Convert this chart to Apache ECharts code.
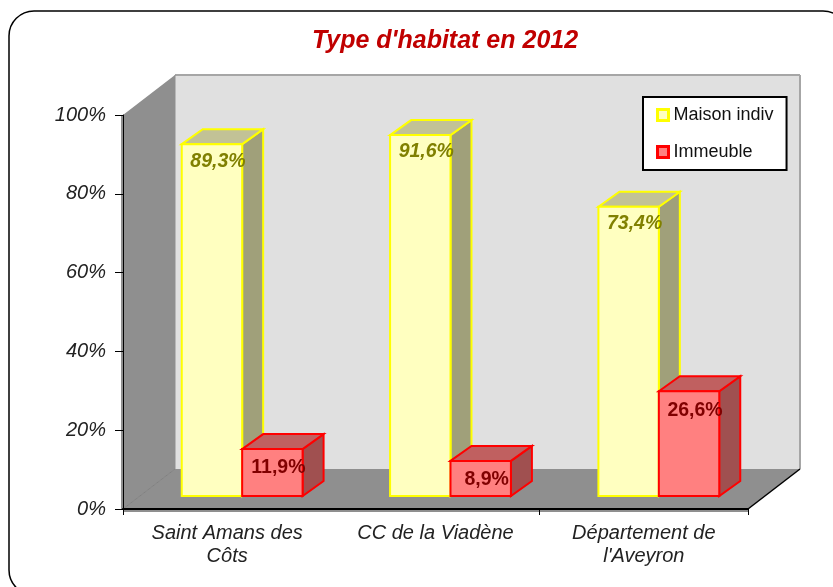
<!DOCTYPE html>
<html>
<head>
<meta charset="utf-8">
<style>html,body{margin:0;padding:0;background:#fff}#chart{width:833px;height:587px}</style>
<script src="https://cdn.jsdelivr.net/npm/echarts@6/dist/echarts.min.js"></script>
</head>
<body>
<div id="chart"></div>
<script>
// data
const categories = ['Saint Amans des\nCôts', 'CC de la Viadène', 'Département de\nl\'Aveyron'];
const maison = [89.3, 91.6, 73.4];
const immeuble = [11.9, 8.9, 26.6];
const yTicks = { min: 0, max: 100, interval: 20 };

// 3D look
const wallDx = 52, wallDy = 40;     // depth of the room
const floorDx = 15, floorDy = 13;   // how far the bars stand from the front edge
const boxDx = 21, boxDy = 15;       // depth of one bar
const barShare = 0.29;              // bar width / band width
const font = '"Liberation Sans", Arial, sans-serif';

const yellow = { front: '#ffffc0', top: '#c2c296', side: '#a0a07a', line: '#ffff00', text: '#808000', style: 'italic', labelDy: 17 };
const red = { front: '#ff8080', top: '#c06060', side: '#a05050', line: '#ff0000', text: '#800000', style: 'normal', labelDy: 19 };

const chart = echarts.init(document.getElementById('chart'));

function poly(points, fill, stroke, lineWidth) {
    return {
        type: 'polygon',
        shape: { points: points },
        style: { fill: fill, stroke: stroke || null, lineWidth: lineWidth || 0 }
    };
}

function line(x1, y1, x2, y2, color, width) {
    return {
        type: 'line',
        shape: { x1: x1, y1: y1, x2: x2, y2: y2 },
        style: { stroke: color, lineWidth: width }
    };
}

// walls and floor
function renderRoom(params) {
    const g = params.coordSys;
    const l = g.x, r = g.x + g.width, t = g.y, b = g.y + g.height;
    const dx = wallDx, dy = wallDy;
    return {
        type: 'group',
        children: [
            poly([[l + dx, t - dy], [r + dx, t - dy], [r + dx, b - dy], [l + dx, b - dy]], '#e0e0e0'),
            poly([[l - 2, t], [l, t], [l + dx, t - dy], [l + dx, b - dy], [l, b], [l - 2, b]], '#8f8f8f'),
            poly([[l, b + 3], [l, b], [l + dx, b - dy], [r + dx, b - dy], [r, b], [r, b + 3]], '#8f8f8f'),
            line(l + dx, t - dy, r + dx, t - dy, '#a6a6a6', 2),
            line(r + dx, t - dy, r + dx, b - dy, '#a6a6a6', 2),
            line(l + dx, t - dy, l + dx, b - dy, '#8f8f8f', 1),
            line(l, b, l + dx, b - dy, '#808080', 1),
            line(r, b, r + dx, b - dy, '#000000', 1.5)
        ]
    };
}

// one 3D bar, drawn from the value through the axis scales
function makeBarRenderer(colors, leftOfCentre) {
    return function (params, api) {
        const top = api.coord([api.value(0), api.value(1)]);
        const base = api.coord([api.value(0), 0]);
        const w = api.size([1, 0])[0] * barShare;
        const x0 = top[0] + floorDx - (leftOfCentre ? w : 0);
        const x1 = x0 + w;
        const y0 = top[1] - floorDy;
        const y1 = base[1] - floorDy;
        const label = api.value(1).toFixed(1).replace('.', ',') + '%';
        return {
            type: 'group',
            children: [
                poly([[x1, y0], [x1 + boxDx, y0 - boxDy], [x1 + boxDx, y1 - boxDy], [x1, y1]], colors.side, colors.line, 2),
                poly([[x0, y0], [x0 + boxDx, y0 - boxDy], [x1 + boxDx, y0 - boxDy], [x1, y0]], colors.top, colors.line, 2),
                poly([[x0, y0], [x1, y0], [x1, y1], [x0, y1]], colors.front, colors.line, 2),
                {
                    type: 'text',
                    z2: 10,
                    style: {
                        x: x0 + w / 2 + 6,
                        y: y0 + colors.labelDy,
                        text: label,
                        align: 'center',
                        verticalAlign: 'middle',
                        fill: colors.text,
                        font: colors.style + ' bold 19.5px ' + font
                    }
                }
            ]
        };
    };
}

const option = {
    animation: false,
    backgroundColor: '#ffffff',
    title: {
        text: "Type d'habitat en 2012",
        left: 440,
        top: 24,
        textAlign: 'center',
        textStyle: { color: '#c00000', fontFamily: font, fontStyle: 'italic', fontWeight: 'bold', fontSize: 25 }
    },
    graphic: [{
        type: 'rect',
        z: -1,
        shape: { x: 9, y: 11, width: 839, height: 584, r: 25 },
        style: { fill: null, stroke: '#000000', lineWidth: 1.5 }
    }],
    legend: {
        left: 643,
        top: 97,
        orient: 'vertical',
        itemWidth: 11,
        itemHeight: 11,
        itemGap: 19,
        padding: [9, 13, 9, 13],
        backgroundColor: '#ffffff',
        borderColor: '#000000',
        borderWidth: 2,
        borderRadius: 0,
        textStyle: { color: '#111111', fontFamily: font, fontSize: 18 },
        data: [
            { name: 'Maison indiv', icon: 'rect', itemStyle: { color: yellow.front, borderColor: yellow.line, borderWidth: 3 } },
            { name: 'Immeuble', icon: 'rect', itemStyle: { color: red.front, borderColor: red.line, borderWidth: 3 } }
        ]
    },
    grid: { left: 123, right: 85, top: 115, bottom: 78 },
    xAxis: {
        type: 'category',
        data: categories,
        z: 5,
        axisLine: { lineStyle: { color: '#000000', width: 2 } },
        axisTick: {
            show: true,
            length: 6,
            interval: function (i) { return i !== 1; },
            lineStyle: { color: '#000000', width: 1 }
        },
        axisLabel: {
            interval: 0,
            margin: 13,
            color: '#222222',
            fontFamily: font,
            fontStyle: 'italic',
            fontSize: 20,
            lineHeight: 23
        }
    },
    yAxis: {
        type: 'value',
        min: yTicks.min,
        max: yTicks.max,
        interval: yTicks.interval,
        z: 5,
        splitLine: { show: false },
        axisLine: { show: true, lineStyle: { color: '#000000', width: 1 } },
        axisTick: { show: true, length: 8, lineStyle: { color: '#000000', width: 1 } },
        axisLabel: {
            margin: 17,
            formatter: '{value}%',
            color: '#222222',
            fontFamily: font,
            fontStyle: 'italic',
            fontSize: 20
        }
    },
    series: [
        {
            type: 'custom',
            silent: true,
            z: 1,
            coordinateSystem: 'cartesian2d',
            data: [[0, 0]],
            renderItem: renderRoom
        },
        {
            name: 'Maison indiv',
            type: 'custom',
            z: 2,
            coordinateSystem: 'cartesian2d',
            encode: { x: 0, y: 1 },
            data: maison.map(function (v, i) { return [i, v]; }),
            itemStyle: { color: yellow.front },
            renderItem: makeBarRenderer(yellow, true)
        },
        {
            name: 'Immeuble',
            type: 'custom',
            z: 3,
            coordinateSystem: 'cartesian2d',
            encode: { x: 0, y: 1 },
            data: immeuble.map(function (v, i) { return [i, v]; }),
            itemStyle: { color: red.front },
            renderItem: makeBarRenderer(red, false)
        }
    ]
};

chart.setOption(option);
</script>
</body>
</html>
